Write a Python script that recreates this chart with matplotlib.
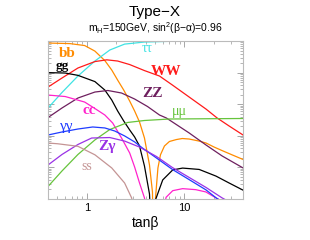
import numpy as np
import matplotlib
matplotlib.use("Agg")
import matplotlib.pyplot as plt
from matplotlib.ticker import LogLocator, NullFormatter, FixedLocator, FixedFormatter

# branching ratios of H (tanb, BR)
bb_t  = [0.40, 0.67, 0.95, 1.21, 1.53, 1.80, 2.07, 2.39, 2.75, 3.09, 3.47, 3.90, 4.39, 4.71, 4.90,
         5.06, 5.36, 5.69, 6.25, 7.03, 8.28, 9.52, 11.2, 14.2, 16.7, 20.2, 24.4, 30.8, 40.0]
bb_br = [0.865, 0.83, 0.72, 0.48, 0.24, 0.121, 0.058, 0.028, 0.0126, 0.0061, 0.00273, 8.5e-4, 1.19e-4, 1.66e-5, 1e-8,
         1.08e-5, 9.6e-5, 2.5e-4, 4.75e-4, 6.6e-4, 7.6e-4, 8.2e-4, 7.9e-4, 6.8e-4, 5.9e-4, 4.4e-4, 3.4e-4, 2.5e-4, 1.78e-4]

gg_t  = [0.40, 0.60, 0.81, 1.21, 1.53, 1.80, 2.07, 2.39, 2.75, 3.09, 3.47, 3.90, 4.39, 4.90,
         5.10, 6.00, 7.60, 9.60, 14.2, 21.1, 28.8, 40.0]
gg_br = [0.10, 0.097, 0.082, 0.052, 0.028, 0.0136, 0.0061, 0.00294, 0.00153, 9.2e-4, 4.75e-4, 1.1e-4, 1.44e-5, 1e-8,
         1e-5, 4e-5, 8.3e-5, 9.5e-5, 8.6e-5, 5.3e-5, 3.2e-5, 1.9e-5]

cc_t  = [0.40, 0.60, 0.95, 1.21, 1.53, 1.84, 2.27, 2.75, 3.09, 3.47, 3.90, 4.40, 4.90,
         5.50, 6.50, 7.60, 9.60, 13.1, 16.6, 21.1, 28.8, 40.0]
cc_br = [0.0195, 0.0175, 0.0117, 0.0073, 0.00455, 0.00254, 8.5e-4, 2.86e-4, 1.03e-4, 3.2e-5, 1.08e-5, 1e-6, 1e-8,
         1e-6, 1.13e-5, 1.83e-5, 2.12e-5, 1.97e-5, 1.67e-5, 1.08e-5, 6.3e-6, 4.2e-6]

ss_t  = [0.40, 0.50, 0.81, 1.21, 1.80, 2.44, 2.88, 3.20]
ss_br = [5.9e-4, 5.6e-4, 4.65e-4, 2.5e-4, 9.6e-5, 3.2e-5, 1.08e-5, 2e-6]

tau_t  = [0.40, 0.556, 0.81, 1.21, 1.72, 2.44, 3.90, 7.03, 40.0]
tau_br = [0.0076, 0.0235, 0.078, 0.233, 0.52, 0.80, 0.93, 0.978, 0.995]

mu_t  = [0.40, 0.556, 0.81, 1.21, 1.72, 2.62, 3.90, 7.03, 40.0]
mu_br = [2.49e-5, 7.7e-5, 2.56e-4, 7.4e-4, 1.58e-3, 2.64e-3, 3.05e-3, 3.4e-3, 3.53e-3]

ww_t  = [0.40, 0.556, 0.81, 1.21, 1.60, 2.07, 2.75, 3.90, 5.56, 7.54, 11.2, 16.7, 21.7, 28.8, 40.0]
ww_br = [0.035, 0.0675, 0.14, 0.224, 0.254, 0.233, 0.18, 0.116, 0.078, 0.0405, 0.0169, 0.0070, 0.00366, 0.00204, 0.00106]

zz_t  = [0.40, 0.556, 0.81, 1.21, 1.64, 2.27, 3.09, 4.19, 5.56, 6.54, 11.2, 16.7, 24.4, 40.0]
zz_br = [0.00379, 0.00759, 0.0157, 0.0243, 0.0272, 0.0226, 0.0146, 0.00846, 0.00455, 0.00366, 0.00123, 5.1e-4, 2.3e-4, 9.6e-5]

aa_t  = [0.40, 0.556, 0.81, 1.15, 1.53, 1.93, 2.44, 3.09, 3.72, 5.18, 7.54, 11.2, 16.7, 21.2, 25.6]
aa_br = [1.06e-3, 1.32e-3, 1.64e-3, 1.9e-3, 1.77e-3, 1.42e-3, 9.9e-4, 6.4e-4, 4.1e-4, 1.98e-4, 8.6e-5, 4.1e-5, 1.93e-5, 1.08e-5, 7.5e-6]

za_t  = [0.40, 0.556, 0.81, 1.12, 1.72, 2.44, 3.47, 5.18, 7.54, 11.2, 16.7, 24.4, 30.2]
za_br = [1.19e-4, 2.56e-4, 5.3e-4, 8.5e-4, 8.8e-4, 6.8e-4, 4.4e-4, 2.21e-4, 9.9e-5, 4.8e-5, 2.31e-5, 1.08e-5, 7.5e-6]

curves = [
    (bb_t, bb_br, "#ff8c00"),
    (tau_t, tau_br, "#3fe3e3"),
    (ww_t, ww_br, "#ff1a1a"),
    (gg_t, gg_br, "black"),
    (zz_t, zz_br, "#6e1f5e"),
    (cc_t, cc_br, "#ff22cc"),
    (mu_t, mu_br, "#66c43c"),
    (aa_t, aa_br, "#1f3cff"),
    (za_t, za_br, "#9a32e6"),
    (ss_t, ss_br, "#c49494"),
]

# label text, axes-fraction position, colour, size, bold
labels = [
    ("bb", 0.097, 0.922, "#ff8c00", 11, True),
    ("gg", 0.072, 0.845, "black", 9.5, True),
    ("\u03c4\u03c4", 0.508, 0.950, "#3fe3e3", 10, False),
    ("WW", 0.605, 0.810, "#ff1a1a", 11, True),
    ("ZZ", 0.538, 0.665, "#6e1f5e", 11, True),
    ("cc", 0.210, 0.563, "#ff22cc", 11, True),
    ("\u03bc\u03bc", 0.672, 0.551, "#66c43c", 10, False),
    ("\u03b3\u03b3", 0.097, 0.462, "#1f3cff", 11, False),
    ("Z\u03b3", 0.303, 0.335, "#9a32e6", 11, True),
    ("ss", 0.200, 0.203, "#c49494", 10, False),
]

fig = plt.figure(figsize=(3.1, 2.4), dpi=100)
ax = fig.add_axes([0.155, 0.171, 0.629, 0.658])

for t, br, c in curves:
    ax.plot(t, br, color=c, lw=0.9)

ax.set_xscale("log")
ax.set_yscale("log")
ax.set_xlim(0.4, 40)
ax.set_ylim(1e-5, 1)

ax.xaxis.set_major_locator(FixedLocator([1, 10]))
ax.xaxis.set_major_formatter(FixedFormatter(["1", "10"]))
ax.xaxis.set_minor_locator(LogLocator(base=10, subs=np.arange(2, 10)))
ax.xaxis.set_minor_formatter(NullFormatter())
ax.yaxis.set_major_locator(LogLocator(base=10))
ax.yaxis.set_minor_locator(LogLocator(base=10, subs=np.arange(2, 10)))
ax.yaxis.set_major_formatter(NullFormatter())
ax.yaxis.set_minor_formatter(NullFormatter())

ax.tick_params(which="both", direction="in", top=True, right=True, colors="#999999",
               labelcolor="black", labelsize=8, pad=3)
ax.tick_params(which="major", length=4, width=0.6)
ax.tick_params(which="minor", length=2, width=0.5)
for s in ax.spines.values():
    s.set_color("#bbbbbb")
    s.set_linewidth(0.8)
for lab in ax.get_xticklabels():
    lab.set_family("Liberation Sans")

for txt, x, y, c, sz, bold in labels:
    ax.text(x, y, txt, transform=ax.transAxes, color=c, fontsize=sz,
            fontweight="bold" if bold else "normal", family="Liberation Serif",
            ha="center", va="center")

ax.set_xlabel("tan\u03b2", fontsize=10, family="Liberation Sans", labelpad=2)
fig.text(0.5, 0.95, "Type\u2212X", ha="center", va="center", fontsize=11, family="Liberation Sans")
fig.text(0.5, 0.883, "m$_\\mathregular{H}$=150GeV, sin$^\\mathregular{2}$(\u03b2\u2212\u03b1)=0.96",
         ha="center", va="center", fontsize=7.5, family="Liberation Sans")

fig.savefig("out.png", dpi=100)
